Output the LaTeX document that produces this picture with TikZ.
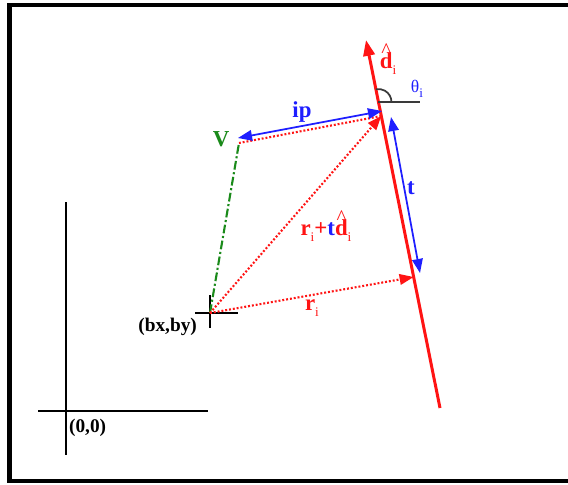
\documentclass[tikz,border=0pt]{standalone}
\usepackage{fontspec}
\setmainfont{Liberation Serif}
\usepackage{amsmath}
\usepackage{tikz}
\usetikzlibrary{arrows.meta, positioning, calc}
\definecolor{linered}{HTML}{FF1414}
\definecolor{dimblue}{HTML}{1E1EFF}
\definecolor{vgreen}{HTML}{1A8A1A}
\definecolor{arcgray}{HTML}{3A3A3A}
\tikzset{
  frame/.style={draw=black, line width=2.4pt},
  axis/.style={draw=black, line width=1.3pt},
  dline/.style={draw=linered, line width=1.7pt, -{Triangle[length=9pt, width=6.5pt]}},
  vec/.style={draw=linered, line width=1.2pt, dash pattern=on 1.1pt off 1.1pt,
    -{Triangle[length=8pt, width=6pt]}},
  vecplain/.style={draw=linered, line width=1.2pt, dash pattern=on 1.1pt off 1.1pt},
  dim/.style={draw=dimblue, line width=1pt, {Triangle[length=8pt, width=6pt]}-{Triangle[length=8pt, width=6pt]}},
  vline/.style={draw=vgreen, line width=1.2pt, dash pattern=on 5pt off 1.5pt on 1.2pt off 1.5pt},
  anglbl/.style={draw=arcgray, line width=1pt},
  lbl/.style={font=\bfseries\fontsize{13}{15}\selectfont, inner sep=1pt},
  coordlbl/.style={font=\bfseries\fontsize{11}{13}\selectfont, inner sep=1pt, text=black},
}
\newcommand{\dhat}{\makebox[0pt][l]{\hspace{0.9pt}\raisebox{6pt}{\normalfont\fontsize{12}{12}\selectfont\textasciicircum}}d}
\newcommand{\idx}{\raisebox{-0.55ex}{\normalfont\fontsize{7.5}{8}\selectfont i}}

\begin{document}
\begin{tikzpicture}[x=0.02cm, y=-0.02cm]
  \useasboundingbox (0,0) rectangle (568,484);
  \draw[frame] (9.5,5) rectangle (590,481);

  % world axes
  \coordinate (orig) at (66,411);
  \coordinate (xaxL) at (38,411);
  \coordinate (xaxR) at (208,411);
  \coordinate (yaxT) at (66,202);
  \coordinate (yaxB) at (66,455);
  \draw[axis] (xaxL) -- (xaxR);
  \draw[axis] (yaxT) -- (yaxB);
  \node[coordlbl, anchor=north west] (origlbl) at (67,417) {(0,0)};

  % local origin
  \coordinate (base) at (210,313);
  \coordinate (baseL) at (195,313);
  \coordinate (baseR) at (238,313);
  \coordinate (baseT) at (210,295);
  \coordinate (baseB) at (210,328);
  \draw[axis] (baseL) -- (baseR);
  \draw[axis] (baseT) -- (baseB);
  \node[coordlbl, anchor=north east] (baselbl) at (199,316) {(bx,by)};

  % the line d_i
  \coordinate (lineBot) at (440,408);
  \coordinate (lineTop) at (366,40);
  \coordinate (ri) at ($(lineBot)!0.356!(lineTop)$);
  \coordinate (rt) at ($(lineBot)!0.7935!(lineTop)$);
  \coordinate (apex) at ($(lineBot)!0.8315!(lineTop)$);
  \draw[dline] (lineBot) -- (lineTop);
  \node[lbl, text=linered] (dlbl) at (388,59) {\dhat\idx};

  % angle theta_i
  \coordinate (horiz) at ($(apex)+(42,0)$);
  \draw[anglbl] (apex) -- (horiz);
  \draw[anglbl] ($(apex)+(13,0)$) arc[start angle=0, end angle=-101, radius=13];
  \node[font=\fontsize{10}{12}\selectfont, text=dimblue, inner sep=0pt] (thlbl) at (417,89) {θ\idx};

  % point V
  \coordinate (vpt) at (239,143);
  \draw[vline] (base) -- (vpt);
  \node[lbl, text=vgreen] (vlbl) at (221,139) {V};

  % vectors from base
  \draw[vec] (base) -- (ri);
  \draw[vec] (base) -- (rt);
  \draw[vecplain] (rt) -- (vpt);
  \node[lbl, text=linered] (rilbl) at (312,308) {r\idx};
  \node[lbl, text=linered] (rtlbl) at (326,226) {r\idx+\textcolor{dimblue}{t}\dhat\idx};

  % measures
  \coordinate (ipA) at (238,138);
  \coordinate (ipB) at (382,111);
  \draw[dim] (ipA) -- (ipB);
  \node[lbl, text=dimblue] (iplbl) at (302,112) {ip};
  \coordinate (tA) at (391,117);
  \coordinate (tB) at (420,273);
  \draw[dim] (tA) -- (tB);
  \node[lbl, text=dimblue] (tlbl) at (411,188) {t};
\end{tikzpicture}
\end{document}
